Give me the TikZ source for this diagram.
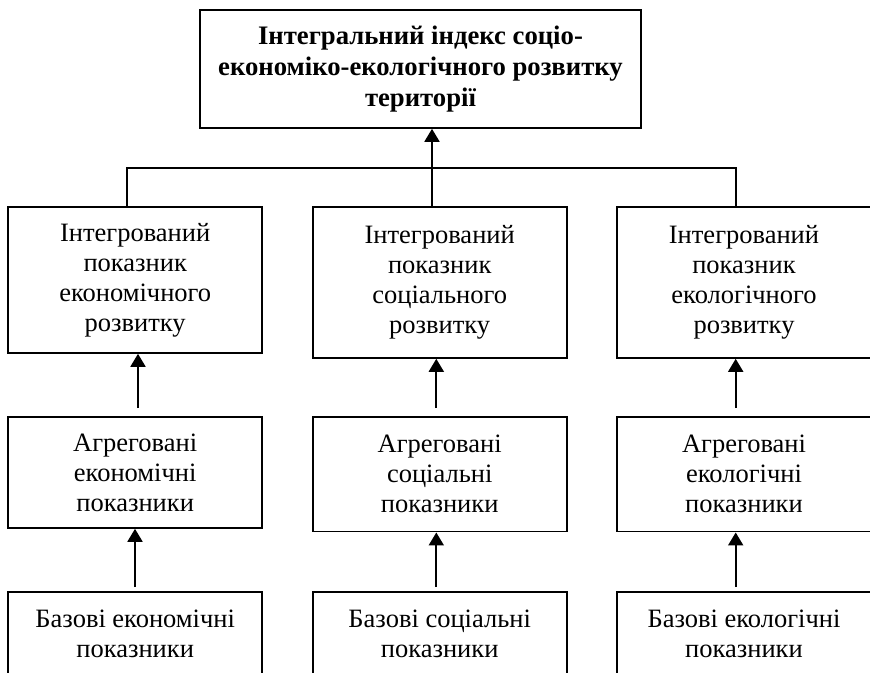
\documentclass[tikz,border=0pt]{standalone}
\usepackage{fontspec}
\setmainfont{Liberation Serif}
\usetikzlibrary{arrows.meta}
\begin{document}
\begin{tikzpicture}[x=1pt,y=-1pt,
  box/.style={draw,line width=1.6pt,inner sep=0pt,align=center,
    font=\fontsize{26.5}{30}\selectfont},
  topbox/.style={box,font=\fontsize{26.7}{30.7}\selectfont\bfseries},
  conn/.style={line width=1.8pt},
  arr/.style={line width=1.8pt,-{Triangle[width=15pt,length=13pt]}}]
\useasboundingbox (0,0) rectangle (870,672);
\clip (0,0) rectangle (870,672);
% top
\node[topbox,minimum width=441pt,minimum height=118pt] (top) at (420.5,69)
  {Інтегральний індекс соціо-\\економіко-екологічного розвитку\\території};
% integrated
\node[box,minimum width=254pt,minimum height=146pt] (i1) at (135.2,280)
  {Інтегрований\\показник\\економічного\\розвитку};
\node[box,minimum width=254pt,minimum height=151pt] (i2) at (439.7,282.5)
  {Інтегрований\\показник\\соціального\\розвитку};
\node[box,minimum width=254pt,minimum height=151pt] (i3) at (744,282.5)
  {Інтегрований\\показник\\екологічного\\розвитку};
% aggregated
\node[box,minimum width=254pt,minimum height=111pt] (a1) at (135.2,472.5)
  {Агреговані\\економічні\\показники};
\node[box,minimum width=254pt,minimum height=114.7pt] (a2) at (439.7,474.3)
  {Агреговані\\соціальні\\показники};
\node[box,minimum width=254pt,minimum height=114.7pt] (a3) at (744,474.3)
  {Агреговані\\екологічні\\показники};
% base
\node[box,minimum width=254pt,minimum height=83pt] (b1) at (135.2,633.5)
  {Базові економічні\\показники};
\node[box,minimum width=254pt,minimum height=83pt] (b2) at (439.7,633.5)
  {Базові соціальні\\показники};
\node[box,minimum width=254pt,minimum height=83pt] (b3) at (744,633.5)
  {Базові екологічні\\показники};
% top connectors
\coordinate (h1) at (127,168);
\coordinate (hm) at (432,168);
\coordinate (h3) at (736,168);
\draw[conn] (h1 |- i1.north) -- (h1) -- (h3) -- (h3 |- i3.north);
\draw[arr] (hm |- i2.north) -- (hm |- top.south);
% arrows integrated <- aggregated
\coordinate (t1) at (138,408);
\coordinate (t2) at (436.3,408);
\coordinate (t3) at (735.7,408);
\draw[arr] (t1) -- (t1 |- i1.south);
\draw[arr] (t2) -- (t2 |- i2.south);
\draw[arr] (t3) -- (t3 |- i3.south);
% arrows aggregated <- base
\coordinate (u1) at (135,587);
\coordinate (u2) at (436.3,587);
\coordinate (u3) at (735.7,587);
\draw[arr] (u1) -- (u1 |- a1.south);
\draw[arr] (u2) -- (u2 |- a2.south);
\draw[arr] (u3) -- (u3 |- a3.south);
\end{tikzpicture}
\end{document}
